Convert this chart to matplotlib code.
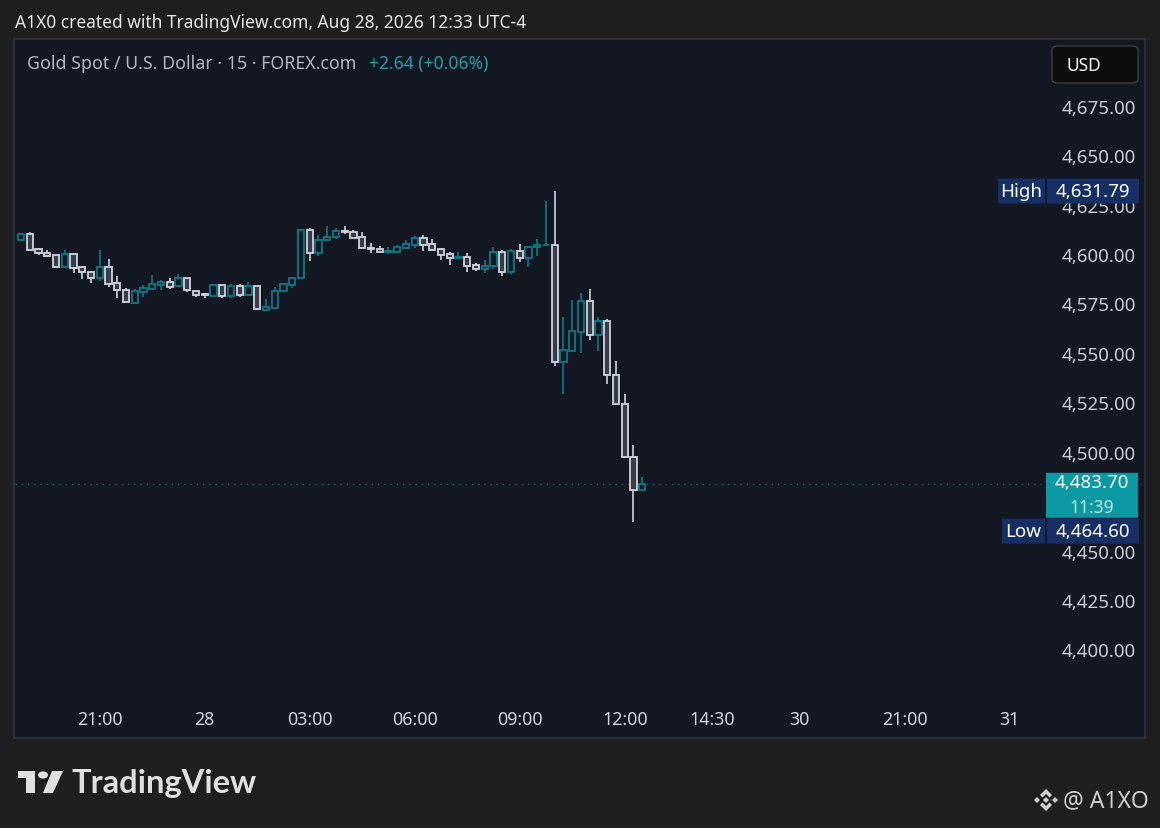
import matplotlib
matplotlib.use('Agg')
import matplotlib.pyplot as plt
from matplotlib.patches import Rectangle, Polygon, Circle, FancyBboxPatch
import matplotlib.transforms as mtransforms

# 15-minute candles, XAUUSD
opens = [4607.2, 4610.1, 4602.5, 4600.5, 4599.5, 4593.6, 4600.0, 4593.2, 4590.7, 4587.8,
         4593.2, 4585.2, 4581.6, 4575.3, 4580.9, 4582.4, 4584.4, 4585.6, 4583.6, 4587.7,
         4581.4, 4579.5, 4578.9, 4584.1, 4578.9, 4583.6, 4579.4, 4583.6, 4571.6, 4572.8,
         4581.1, 4584.4, 4587.7, 4612.0, 4600.3, 4606.9, 4608.4, 4611.5, 4611.0, 4608.4,
         4602.8, 4602.3, 4601.1, 4601.1, 4603.2, 4604.7, 4607.9, 4604.9, 4602.3, 4599.8,
         4598.1, 4598.3, 4594.3, 4592.5, 4593.8, 4600.8, 4591.0, 4601.3, 4598.1, 4603.4,
         4604.4, 4604.4, 4545.5, 4551.1, 4560.7, 4576.0, 4558.8, 4565.9, 4538.6, 4523.9,
         4497.1, 4480.4]
highs = [4610.6, 4611.1, 4603.0, 4602.0, 4599.6, 4602.2, 4600.5, 4593.9, 4590.8, 4602.1,
         4597.4, 4588.8, 4582.6, 4582.3, 4584.3, 4589.3, 4586.8, 4587.8, 4589.9, 4587.8,
         4581.5, 4580.2, 4584.8, 4584.2, 4584.8, 4584.8, 4585.8, 4584.0, 4577.2, 4583.3,
         4585.3, 4588.3, 4612.5, 4613.0, 4609.4, 4614.1, 4613.0, 4614.0, 4612.0, 4611.0,
         4605.4, 4603.9, 4603.4, 4604.4, 4607.1, 4608.9, 4609.4, 4607.4, 4602.8, 4600.8,
         4601.0, 4600.3, 4595.4, 4596.8, 4603.4, 4601.8, 4602.3, 4604.9, 4603.5, 4607.4,
         4626.6, 4631.79, 4568.1, 4576.7, 4580.2, 4582.3, 4568.1, 4566.9, 4545.7, 4529.0,
         4503.2, 4487.2]
lows = [4606.5, 4602.0, 4599.6, 4598.6, 4593.5, 4592.9, 4590.4, 4587.3, 4585.3, 4586.5,
        4583.4, 4577.9, 4575.4, 4575.0, 4578.4, 4582.3, 4581.9, 4582.4, 4583.5, 4580.9,
        4578.4, 4577.9, 4578.4, 4577.9, 4577.9, 4578.4, 4578.9, 4571.6, 4571.1, 4572.1,
        4580.6, 4582.6, 4587.6, 4596.6, 4599.1, 4606.8, 4607.4, 4609.9, 4608.1, 4602.8,
        4600.6, 4600.7, 4600.0, 4601.0, 4602.5, 4603.2, 4601.6, 4601.6, 4597.1, 4594.6,
        4597.3, 4591.0, 4591.5, 4590.5, 4592.2, 4589.0, 4590.0, 4596.1, 4593.6, 4598.8,
        4604.3, 4543.5, 4529.3, 4551.0, 4550.0, 4556.6, 4551.1, 4534.4, 4523.8, 4497.0,
        4464.6, 4480.3]
closes = [4610.1, 4602.2, 4600.3, 4599.1, 4593.6, 4600.0, 4593.0, 4590.7, 4588.0, 4593.2,
          4585.0, 4581.6, 4575.5, 4581.1, 4582.8, 4584.6, 4585.8, 4583.4, 4587.7, 4581.6,
          4579.4, 4579.2, 4584.1, 4578.9, 4583.6, 4579.4, 4583.6, 4572.2, 4573.2, 4581.1,
          4584.6, 4587.7, 4612.0, 4600.3, 4606.9, 4608.4, 4611.5, 4611.3, 4608.2, 4602.9,
          4602.6, 4600.8, 4601.3, 4603.4, 4604.9, 4607.9, 4604.7, 4602.1, 4599.6, 4598.1,
          4598.3, 4594.1, 4592.5, 4593.8, 4600.8, 4591.0, 4601.3, 4598.1, 4603.4, 4604.4,
          4604.5, 4545.5, 4551.3, 4560.9, 4576.0, 4558.8, 4565.9, 4538.6, 4523.9, 4497.1,
          4480.4, 4483.7]

time_ticks = [9, 21, 33, 45, 57, 69, 79, 89, 101, 113]
time_labels = ['21:00', '28', '03:00', '06:00', '09:00', '12:00', '14:30', '30', '21:00', '31']
price_ticks = [4400, 4425, 4450, 4475, 4500, 4525, 4550, 4575, 4600, 4625, 4650, 4675]
hidden_ticks = [4475]  # fully covered by the last-price label

session_high = 4631.79
session_low = 4464.60
last_price = 4483.70
countdown = '11:39'

W, H = 1160, 829
BG = '#1e1e1e'
PANE = '#131722'
UP = '#0b7a87'
DOWN = '#d1d4dc'
DOWN_FILL = '#3a3d47'
FONT = 'Noto Sans'

plt.rcParams['font.family'] = [FONT, 'DejaVu Sans']

fig = plt.figure(figsize=(W / 100, H / 100), dpi=100, facecolor=BG)


def fx(x):
    return x / W


def fy(y):
    return 1 - y / H


# chart pane frame
fig.add_artist(Rectangle((fx(14), fy(739)), fx(1131), 699 / H, transform=fig.transFigure,
                         facecolor=PANE, edgecolor='#2e323d', lw=1.3, zorder=0))

ax = fig.add_axes([fx(15), fy(700), fx(1130), (700 - 41) / H])
ax.set_facecolor('none')
for s in ax.spines.values():
    s.set_visible(False)

# candles
bw = 0.72
for i in range(len(opens)):
    o, h, l, c = opens[i], highs[i], lows[i], closes[i]
    up = c >= o
    col = UP if up else DOWN
    ax.vlines(i, l, h, color=col, lw=1.2, zorder=2)
    bottom = min(o, c)
    ht = max(abs(c - o), 0.05)
    ax.add_patch(Rectangle((i - bw / 2, bottom), bw, ht, facecolor=PANE if up else DOWN_FILL,
                           edgecolor=col, lw=1.3, zorder=3))

# last price line
ax.axhline(last_price, color=UP, lw=0.9, ls=(0, (1, 4)), alpha=0.8, zorder=1)

ax.set_xlim(-0.686, 128.46)
ax.set_ylim(4374.9, 4708.2)

ax.set_xticks(time_ticks)
ax.set_xticklabels(time_labels)
ax.tick_params(axis='x', length=0, pad=8, labelsize=12.8, labelcolor='#d1d4dc')

ax.yaxis.tick_right()
ax.set_yticks(price_ticks)
ax.set_yticklabels(['' if p in hidden_ticks else '{:,.2f}'.format(p) for p in price_ticks])
ax.tick_params(axis='y', length=0, pad=-6.5, labelsize=13.5, labelcolor='#c8cbd2')
for lbl in ax.get_yticklabels():
    lbl.set_horizontalalignment('right')

# price labels on the scale
tr = mtransforms.blended_transform_factory(ax.transAxes, ax.transData)
px = 1 / 1130  # one pixel in axes fraction
ppu = 0.50589  # price units per pixel


def ax_x(x):
    return (x - 15) * px


def label_box(x0, x1, center, hpx, color, text, tcolor='white', zo=6):
    ax.add_patch(FancyBboxPatch((ax_x(x0), center - hpx / 2 * ppu), (x1 - x0) * px, hpx * ppu,
                                boxstyle='round,pad=0,rounding_size=0.002', transform=tr,
                                facecolor=color, edgecolor='none', zorder=zo, clip_on=False))
    if text:
        ax.text(ax_x((x0 + x1) / 2), center, text, transform=tr, ha='center', va='center',
                color=tcolor, fontsize=13.5, zorder=zo + 1)


NAVY = '#152f66'
label_box(998, 1045, session_high, 25, NAVY, 'High')
label_box(1047, 1139, session_high, 25, NAVY, '{:,.2f}'.format(session_high))
low_c = session_low - 4.8
label_box(1002, 1045, low_c, 25, NAVY, 'Low')
label_box(1047, 1139, low_c, 25, NAVY, '{:,.2f}'.format(session_low))
label_box(1046, 1138, last_price - 11.4 * ppu, 45, '#0a98a2', None)
ax.text(ax_x(1092), last_price + 0.8, '{:,.2f}'.format(last_price), transform=tr, ha='center',
        va='center', color='white', fontsize=13.5, zorder=8)
ax.text(ax_x(1092), last_price - 23 * ppu, countdown, transform=tr, ha='center',
        va='center', color='#bfe9ec', fontsize=12.5, zorder=8)

# USD button
fig.add_artist(FancyBboxPatch((fx(1052), fy(84)), fx(86), 37 / H,
                              boxstyle='round,pad=0,rounding_size=0.005',
                              transform=fig.transFigure, facecolor='#0d0d0d',
                              edgecolor='#3a3d44', lw=1.0, zorder=5))
fig.text(fx(1066), fy(66), 'USD', color='white', fontsize=12.5, va='center', zorder=6)

# header texts
fig.text(fx(15), fy(23), 'A1X0 created with TradingView.com, Aug 28, 2026 12:33 UTC-4',
         color='#e6e6e6', fontsize=12.5, fontweight='semibold', va='center')
fig.text(fx(27), fy(64), 'Gold Spot / U.S. Dollar \u00b7 15 \u00b7 FOREX.com',
         color='#b2b5be', fontsize=12.8, va='center')
fig.text(fx(369), fy(64), '+2.64 (+0.06%)', color='#1ba1aa', fontsize=12.6, va='center')

# TradingView logo at the bottom
LOGO = '#e0e0e0'


def poly(pts, color):
    fig.add_artist(Polygon([(fx(x), fy(y)) for x, y in pts], closed=True,
                           transform=fig.transFigure, facecolor=color, edgecolor='none'))


poly([(18, 772), (35, 772), (35, 794), (26, 794), (26, 779), (18, 779)], LOGO)
fig.add_artist(Circle((fx(43), fy(776)), 3.6 / H, transform=fig.transFigure,
                      facecolor=LOGO, edgecolor='none'))
poly([(52, 772), (63, 772), (53, 794), (43, 794)], LOGO)
fig.text(fx(72), fy(784), 'TradingView', color=LOGO, fontsize=23.5, fontweight='bold',
         va='center', family='Lato')

# binance-like mark + handle
ICON = '#d0d0d0'
poly([(1046, 790), (1052, 796), (1049.5, 798.5), (1046, 795), (1042.5, 798.5), (1040, 796)], ICON)
poly([(1046, 812), (1052, 806), (1049.5, 803.5), (1046, 807), (1042.5, 803.5), (1040, 806)], ICON)
for cx, cy, r in [(1037, 801, 3), (1055, 801, 3), (1046, 801, 3)]:
    poly([(cx, cy - r), (cx + r, cy), (cx, cy + r), (cx - r, cy)], ICON)
fig.text(fx(1063), fy(801), '@ A1XO', color=ICON, fontsize=16.5, va='center')

plt.savefig('out.png', dpi=100, facecolor=BG)
